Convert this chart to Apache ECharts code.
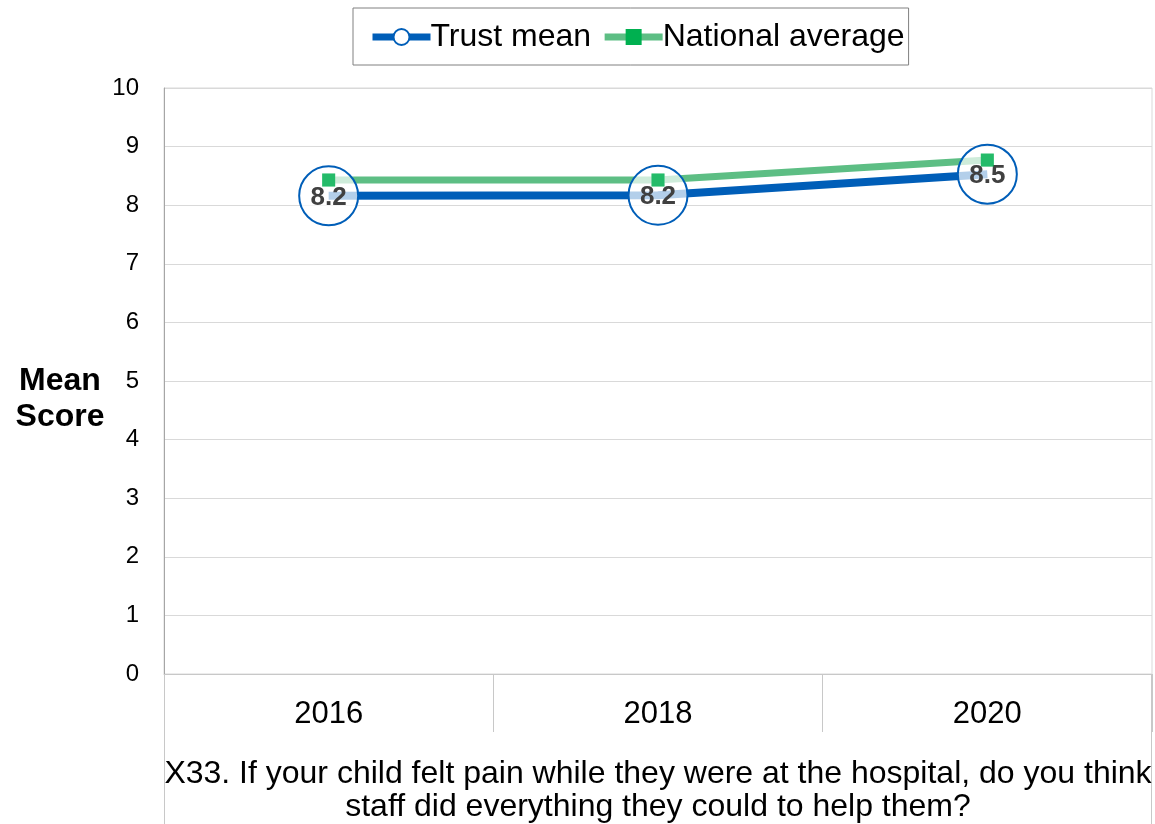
<!DOCTYPE html>
<html><head><meta charset="utf-8">
<script src="https://cdn.jsdelivr.net/npm/echarts@6/dist/echarts.min.js"></script>
<style>html,body{margin:0;padding:0;background:#fff}#c{width:1155px;height:824px}</style>
</head><body><div id="c"></div>
<script>
const categories = ['2016', '2018', '2020'];
const trustMean = [8.16, 8.17, 8.53];
const nationalAverage = [8.43, 8.43, 8.77];
const yTicks = [0, 10, 1];
const question = 'X33. If your child felt pain while they were at the hospital, do you think\nstaff did everything they could to help them?';

const F = '"Liberation Sans", Arial, sans-serif';
const chart = echarts.init(document.getElementById('c'), null, {renderer: 'canvas'});
chart.setOption({
  animation: false,
  textStyle: {fontFamily: F},
  grid: {left: 164, right: 3, top: 88, bottom: 150, show: true, borderColor: '#d9d9d9', borderWidth: 1},
  legend: {
    left: 353, top: 8,
    data: [
      {name: 'Trust mean', itemStyle: {color: '#fff', borderColor: '#005eb8', borderWidth: 2}, lineStyle: {width: 7, color: '#005eb8'}},
      {name: 'National average', itemStyle: {color: '#00b050'}, lineStyle: {width: 7, color: '#5dbe84'}}
    ],
    itemWidth: 58, itemHeight: 20, itemGap: 10,
    padding: [13, 4, 12, 16],
    borderColor: '#808080', borderWidth: 1,
    textStyle: {fontSize: 32, color: '#000', fontFamily: F, padding: [4, 0, 0, -5]}
  },
  xAxis: {
    type: 'category', data: categories, boundaryGap: true,
    axisLine: {lineStyle: {color: '#c8c8c8', width: 1}},
    axisTick: {show: true, interval: 0, length: 58, lineStyle: {color: '#c8c8c8'}},
    axisLabel: {fontSize: 31, color: '#000', margin: 25, fontFamily: F}
  },
  yAxis: {
    type: 'value', min: yTicks[0], max: yTicks[1], interval: yTicks[2],
    name: '\nMean\nScore', nameLocation: 'middle', nameGap: 104, nameRotate: 0,
    nameTextStyle: {fontSize: 32, fontWeight: 'bold', color: '#000', lineHeight: 36, align: 'center', fontFamily: F},
    axisLine: {show: true, lineStyle: {color: '#a6a6a6'}},
    axisTick: {show: false},
    axisLabel: {fontSize: 24, color: '#000', margin: 25, fontFamily: F},
    splitLine: {lineStyle: {color: '#d9d9d9'}}
  },
  series: [
    {
      name: 'National average', type: 'line', data: nationalAverage, z: 2,
      symbol: 'rect', symbolSize: 13,
      lineStyle: {color: '#5dbe84', width: 7},
      itemStyle: {color: '#00b050'}
    },
    {
      name: 'Trust mean', type: 'line', data: trustMean, z: 3,
      symbol: 'circle', symbolSize: 59,
      lineStyle: {color: '#005eb8', width: 8},
      itemStyle: {color: 'rgba(255,255,255,0.7)', borderColor: '#005eb8', borderWidth: 2},
      label: {show: true, position: 'inside', fontSize: 26, fontWeight: 'bold', color: '#404040', fontFamily: F,
        offset: [0, 2], formatter: p => p.value.toFixed(1)}
    },
    {
      name: 'National marker', type: 'scatter', data: nationalAverage, z: 4,
      symbol: 'rect', symbolSize: 13, itemStyle: {color: '#00b050'}, silent: true
    }
  ],
  graphic: [
    {type: 'line', shape: {x1: 164.5, y1: 674, x2: 164.5, y2: 824}, style: {stroke: '#c8c8c8', lineWidth: 1}},
    {type: 'line', shape: {x1: 1151.5, y1: 674, x2: 1151.5, y2: 824}, style: {stroke: '#c8c8c8', lineWidth: 1}},
    {type: 'text', x: 658, y: 758, style: {text: question, font: '32px "Liberation Sans", Arial, sans-serif', fill: '#000', textAlign: 'center', textVerticalAlign: 'top', lineHeight: 33}}
  ]
});
</script></body></html>
